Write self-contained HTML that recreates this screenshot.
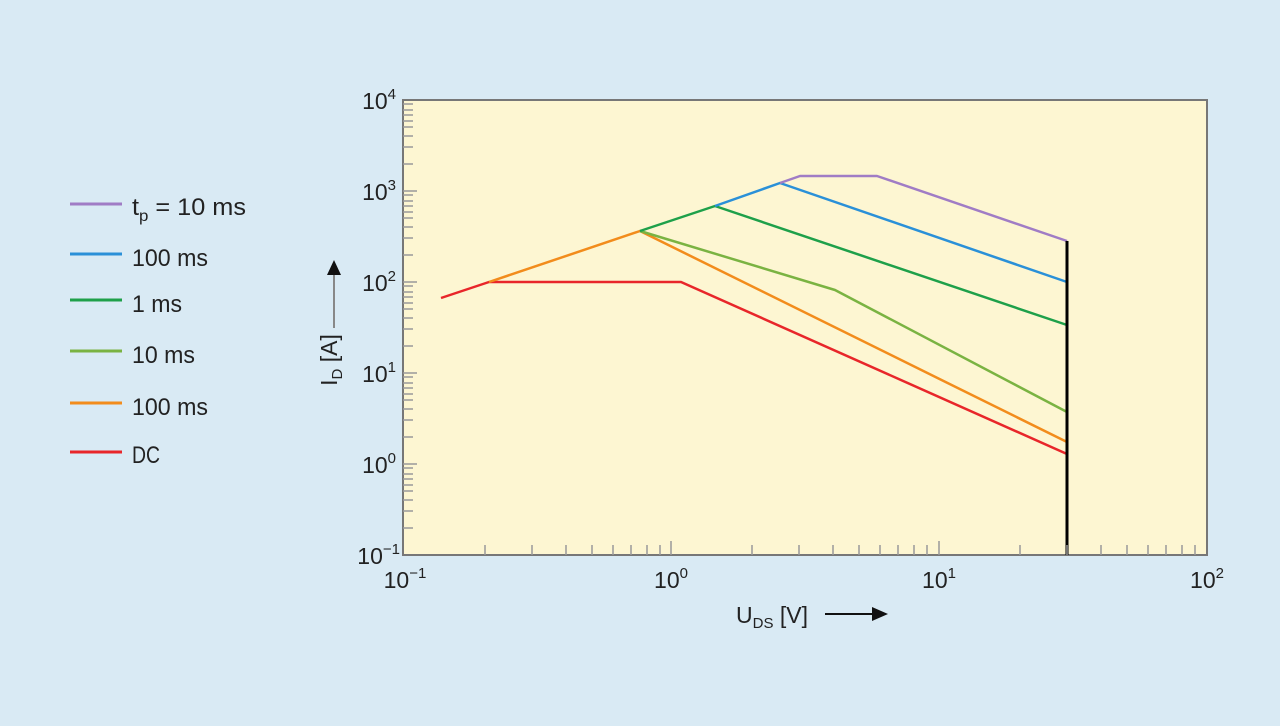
<!DOCTYPE html>
<html><head><style>
body{margin:0;width:1280px;height:721px;background:#d9eaf4;overflow:hidden}
svg{font-family:"Liberation Sans",sans-serif}
</style></head><body>
<svg width="1280" height="721" viewBox="0 0 1280 721">
<rect x="403" y="100" width="804" height="455" fill="#fdf6d2" stroke="#777" stroke-width="2"/>
<g fill="none" stroke-width="2.5" stroke-linejoin="round">
<polyline stroke="#e8262a" points="441,298 489,282 681,282 1067,454"/>
<polyline stroke="#f28c1c" points="489,282 640,231 1067,442"/>
<polyline stroke="#7ab342" points="640,231 835,290 1067,412"/>
<polyline stroke="#1ea04a" points="640,231 715,206 1067,325"/>
<polyline stroke="#2a90d8" points="715,206 780,183 1067,282"/>
<polyline stroke="#a07cc5" points="780,183 800,176 877,176 1067,241"/>
<line x1="1067" y1="241" x2="1067" y2="555" stroke="#000" stroke-width="3"/>
</g>
<g font-size="23" fill="#222" text-anchor="end">
<text x="396" y="109">10<tspan font-size="15" dy="-10">4</tspan></text>
<text x="396" y="200">10<tspan font-size="15" dy="-10">3</tspan></text>
<text x="396" y="291">10<tspan font-size="15" dy="-10">2</tspan></text>
<text x="396" y="382">10<tspan font-size="15" dy="-10">1</tspan></text>
<text x="396" y="473">10<tspan font-size="15" dy="-10">0</tspan></text>
<text x="400" y="564">10<tspan font-size="15" dy="-10">−1</tspan></text>
</g>
<g font-size="23" fill="#222" text-anchor="middle">
<text x="405" y="588">10<tspan font-size="15" dy="-10">−1</tspan></text>
<text x="671" y="588">10<tspan font-size="15" dy="-10">0</tspan></text>
<text x="939" y="588">10<tspan font-size="15" dy="-10">1</tspan></text>
<text x="1207" y="588">10<tspan font-size="15" dy="-10">2</tspan></text>
<text x="772" y="623">U<tspan font-size="15" dy="5">DS</tspan><tspan dy="-5"> [V]</tspan></text>
</g>
<line x1="825" y1="614" x2="875" y2="614" stroke="#111" stroke-width="2"/>
<polygon points="872,607 888,614 872,621" fill="#111"/>
<text transform="translate(337,360) rotate(-90)" font-size="23" fill="#222" text-anchor="middle">I<tspan font-size="15" dy="5">D</tspan><tspan dy="-5"> [A]</tspan></text>
<line x1="334" y1="328" x2="334" y2="272" stroke="#888" stroke-width="2"/>
<polygon points="327,275 334,260 341,275" fill="#111"/>
<g stroke-width="3">
<line x1="70" y1="204" x2="122" y2="204" stroke="#a07cc5"/>
<line x1="70" y1="254" x2="122" y2="254" stroke="#2a90d8"/>
<line x1="70" y1="300" x2="122" y2="300" stroke="#1ea04a"/>
<line x1="70" y1="351" x2="122" y2="351" stroke="#7ab342"/>
<line x1="70" y1="403" x2="122" y2="403" stroke="#f28c1c"/>
<line x1="70" y1="452" x2="122" y2="452" stroke="#e8262a"/>
</g>
<g font-size="24" fill="#222">
<text x="132" y="215" textLength="114" lengthAdjust="spacingAndGlyphs">t<tspan font-size="16" dy="6">p</tspan><tspan dy="-6"> = 10 ms</tspan></text>
<text x="132" y="266" textLength="76" lengthAdjust="spacingAndGlyphs">100 ms</text>
<text x="132" y="312" textLength="50" lengthAdjust="spacingAndGlyphs">1 ms</text>
<text x="132" y="363" textLength="63" lengthAdjust="spacingAndGlyphs">10 ms</text>
<text x="132" y="415" textLength="76" lengthAdjust="spacingAndGlyphs">100 ms</text>
<text x="132" y="463" textLength="28" lengthAdjust="spacingAndGlyphs">DC</text>
</g>
<g stroke="#999" stroke-width="1.5">
<path d="
M485,555v-10 M532,555v-10 M566,555v-10 M592,555v-10 M613,555v-10 M631,555v-10 M647,555v-10 M660,555v-10 M671,555v-14
M752,555v-10 M799,555v-10 M833,555v-10 M859,555v-10 M880,555v-10 M898,555v-10 M914,555v-10 M927,555v-10 M939,555v-14
M1020,555v-10 M1067,555v-10 M1101,555v-10 M1127,555v-10 M1148,555v-10 M1166,555v-10 M1182,555v-10 M1195,555v-10
M403,528h10 M403,511h10 M403,500h10 M403,491h10 M403,485h10 M403,479h10 M403,474h10 M403,468h10 M403,464h14
M403,437h10 M403,420h10 M403,409h10 M403,400h10 M403,394h10 M403,388h10 M403,383h10 M403,377h10 M403,373h14
M403,346h10 M403,329h10 M403,318h10 M403,309h10 M403,303h10 M403,297h10 M403,292h10 M403,286h10 M403,282h14
M403,255h10 M403,238h10 M403,227h10 M403,218h10 M403,212h10 M403,206h10 M403,201h10 M403,195h10 M403,191h14
M403,164h10 M403,147h10 M403,136h10 M403,127h10 M403,121h10 M403,115h10 M403,110h10 M403,104h10"/>
</g>
</svg>
</body></html>
